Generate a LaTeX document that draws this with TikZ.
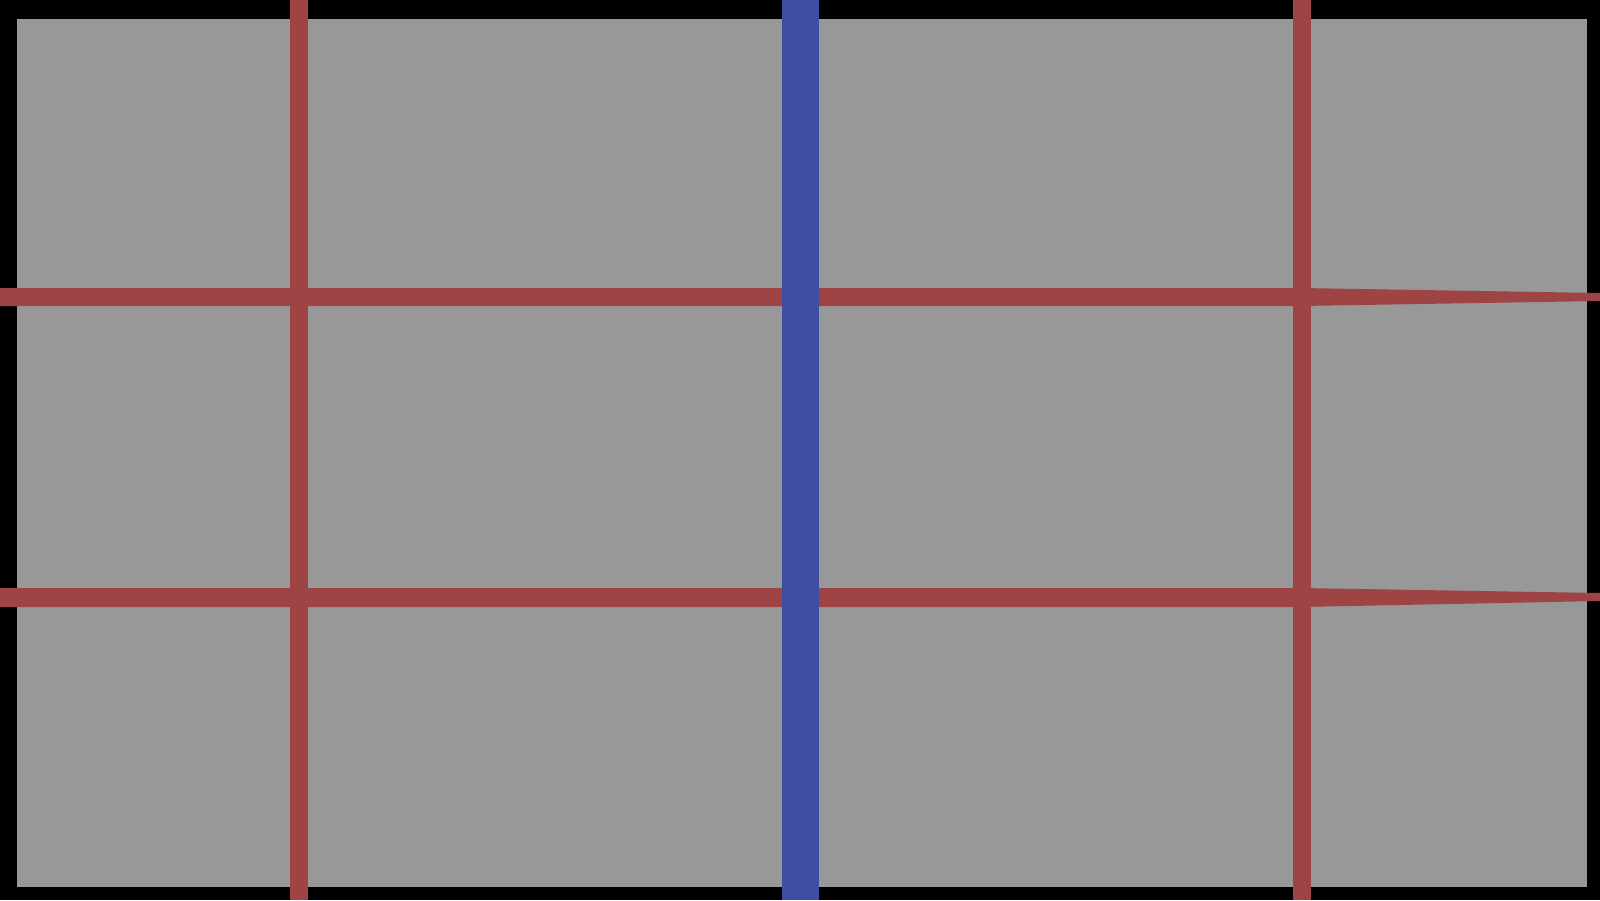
\documentclass[tikz,border=0pt]{standalone}
\definecolor{bgblack}{RGB}{0,0,0}
\definecolor{panelgrey}{RGB}{152,152,152}
\definecolor{gridred}{RGB}{158,68,68}
\definecolor{axisblue}{RGB}{62,78,162}
\tikzset{
  redline/.style={draw=gridred, line width=18pt},
  redband/.style={fill=gridred},
  blueline/.style={draw=axisblue, line width=37pt}
}
\begin{document}
\begin{tikzpicture}[x=1pt,y=-1pt]
\useasboundingbox (0,0) rectangle (1600,900);
\fill[bgblack] (0,0) rectangle (1600,900);
\fill[panelgrey] (17,19) rectangle (1587,887);
% horizontal red lines, tapering towards the right edge
\path[redband] (0,288) -- (1300,288) -- (1600,293) -- (1600,301) -- (1300,306) -- (0,306) -- cycle;
\path[redband] (0,588) -- (1300,588) -- (1600,593) -- (1600,601) -- (1300,607) -- (0,607) -- cycle;
% vertical red lines
\draw[redline] (299,0) -- (299,900);
\draw[redline] (1302,0) -- (1302,900);
% blue centre line
\draw[blueline] (800,0) -- (800,900);
\end{tikzpicture}
\end{document}
